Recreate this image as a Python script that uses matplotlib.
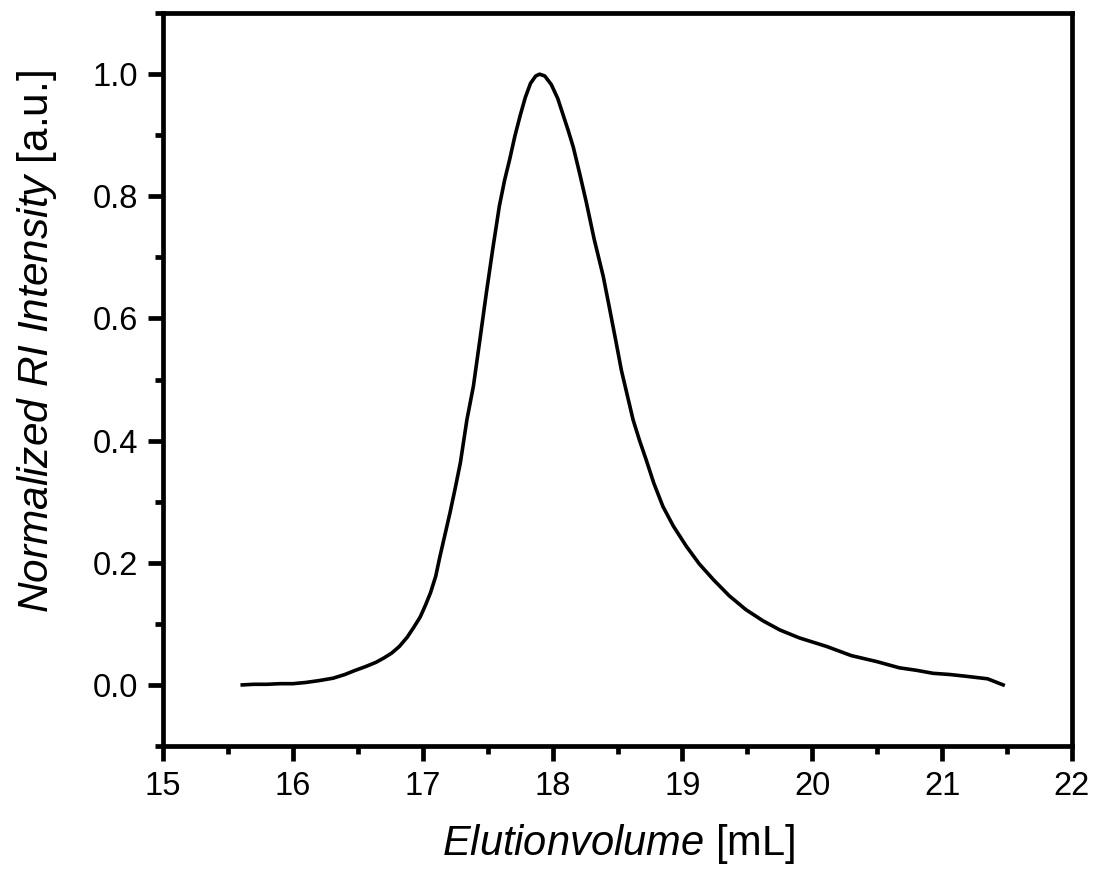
import matplotlib
matplotlib.use("Agg")
import matplotlib.pyplot as plt
from matplotlib.ticker import MultipleLocator

plt.rcParams['font.family'] = ['Liberation Sans', 'DejaVu Sans']
plt.rcParams['mathtext.fontset'] = 'custom'
plt.rcParams['mathtext.rm'] = 'Liberation Sans'
plt.rcParams['mathtext.it'] = 'Liberation Sans:italic'

# elution volume [mL] and normalized RI intensity
volume = [15.61, 15.70, 15.80, 15.90, 16.00, 16.10, 16.20, 16.31, 16.40, 16.47,
          16.56, 16.64, 16.70, 16.76, 16.82, 16.88, 16.93, 16.98, 17.02, 17.06,
          17.10, 17.13, 17.17, 17.21, 17.25, 17.29, 17.34, 17.39, 17.44, 17.49,
          17.54, 17.59, 17.63, 17.67, 17.71, 17.75, 17.79, 17.83, 17.87, 17.90,
          17.94, 17.99, 18.04, 18.08, 18.12, 18.16, 18.21, 18.26, 18.32, 18.39,
          18.44, 18.49, 18.53, 18.58, 18.62, 18.67, 18.72, 18.78, 18.85, 18.93,
          19.03, 19.13, 19.24, 19.36, 19.49, 19.62, 19.75, 19.90, 20.11, 20.30,
          20.50, 20.67, 20.80, 20.93, 21.06, 21.19, 21.35, 21.47]
intensity = [0.000, 0.001, 0.001, 0.002, 0.002, 0.004, 0.007, 0.011, 0.017, 0.023,
             0.030, 0.037, 0.044, 0.052, 0.063, 0.078, 0.094, 0.111, 0.130, 0.151,
             0.178, 0.208, 0.245, 0.282, 0.322, 0.364, 0.434, 0.489, 0.565, 0.642,
             0.715, 0.784, 0.826, 0.861, 0.899, 0.932, 0.962, 0.985, 0.997, 1.000,
             0.997, 0.983, 0.960, 0.934, 0.908, 0.880, 0.836, 0.790, 0.730, 0.669,
             0.615, 0.560, 0.515, 0.470, 0.434, 0.400, 0.369, 0.330, 0.292, 0.260,
             0.227, 0.198, 0.172, 0.146, 0.123, 0.105, 0.090, 0.077, 0.063, 0.048,
             0.038, 0.028, 0.024, 0.019, 0.017, 0.014, 0.010, 0.000]

fig = plt.figure(figsize=(10.98, 8.73), dpi=100)
ax = fig.add_axes([0.1485, 0.1455, 0.8278, 0.8395])

ax.plot(volume, intensity, color='black', lw=2.6)

ax.set_xlim(15, 22)
ax.set_ylim(-0.1, 1.1)
ax.xaxis.set_major_locator(MultipleLocator(1))
ax.xaxis.set_minor_locator(MultipleLocator(0.5))
ax.yaxis.set_major_locator(MultipleLocator(0.2))
ax.yaxis.set_minor_locator(MultipleLocator(0.1))
ax.yaxis.set_major_formatter(plt.FormatStrFormatter('%.1f'))

for s in ax.spines.values():
    s.set_linewidth(3.4)
ax.tick_params(which='major', direction='out', length=11, width=3.4, labelsize=23.5, pad=7)
ax.tick_params(which='minor', direction='out', length=6, width=3.4)

ax.set_xlabel(r'$\it{Elutionvolume}$ [mL]', fontsize=30)
ax.set_ylabel(r'$\it{Normalized\ RI\ Intensity}$ [a.u.]', fontsize=30.5)
ax.xaxis.set_label_coords(0.501, -0.104)
ax.yaxis.set_label_coords(-0.115, 0.552)

fig.savefig('out.png', dpi=100)
